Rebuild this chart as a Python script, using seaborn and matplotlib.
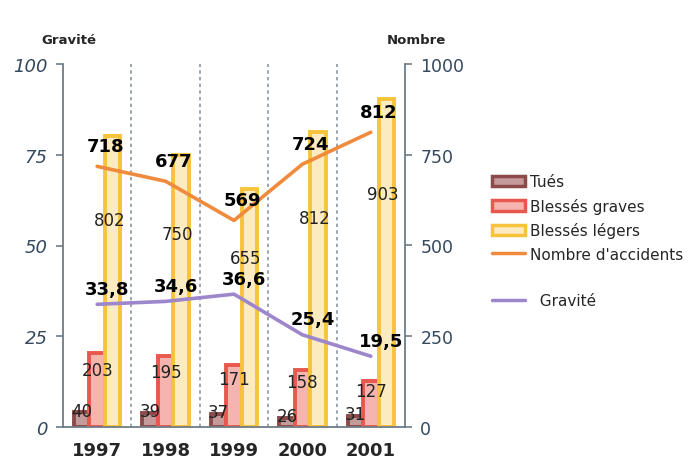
import numpy as np
import pandas as pd
import matplotlib
matplotlib.use("Agg")
from matplotlib import pyplot as plt
from matplotlib.patches import Patch
from matplotlib.lines import Line2D
import seaborn as sns

years = ["1997", "1998", "1999", "2000", "2001"]
tues = [40, 39, 37, 26, 31]
blesses_graves = [203, 195, 171, 158, 127]
blesses_legers = [802, 750, 655, 812, 903]
accidents = [718, 677, 569, 724, 812]
gravite = [33.8, 34.6, 36.6, 25.4, 19.5]

series_names = ["Tués", "Blessés graves", "Blessés légers"]
face_colors = ["#C49A9A", "#F5B5AE", "#FCEBC0"]
edge_colors = ["#8C4A4A", "#E8584E", "#F6C33A"]
orange = "#F08A3C"
violet = "#9D86CC"
axis_grey = "#6F7B85"
tick_col = "#34495E"

df = pd.DataFrame({
    "annee": years * 3,
    "type": [series_names[0]] * 5 + [series_names[1]] * 5 + [series_names[2]] * 5,
    "valeur": tues + blesses_graves + blesses_legers,
})

sns.set_theme(style="white")
plt.rcParams["font.family"] = ["DejaVu Sans"]

fig = plt.figure(figsize=(6.89, 4.64), dpi=100)
ax = fig.add_axes([0.0914, 0.0776, 0.4964, 0.7823])
ax2 = ax.twinx()

# barres (echelle de droite)
sns.barplot(data=df, x="annee", y="valeur", hue="type", hue_order=series_names,
            palette=face_colors, width=0.68, legend=False, ax=ax2, saturation=1)
for cont, ec in zip(ax2.containers, edge_colors):
    for b in cont:
        b.set_edgecolor(ec)
        b.set_linewidth(2.8)

x = np.arange(len(years))
sns.lineplot(x=x, y=accidents, color=orange, linewidth=2.6, legend=False, ax=ax2)
sns.lineplot(x=x, y=gravite, color=violet, linewidth=2.6, legend=False, ax=ax)

ax.set_zorder(ax2.get_zorder() + 1)
ax.patch.set_visible(False)

for xs in [0.5, 1.5, 2.5, 3.5]:
    ax2.axvline(xs, color="#8A96A3", linestyle=(0, (2, 2)), linewidth=1.2, zorder=0)

off = 0.68 / 3
for i in range(len(years)):
    ax2.text(i - off, tues[i] + 5, str(tues[i]), ha="center", va="center",
             fontsize=12, color="#222222")
    ax2.text(i, blesses_graves[i] * 0.78, str(blesses_graves[i]), ha="center",
             va="center", fontsize=12, color="#222222")
    ax2.text(i + off - 0.05, blesses_legers[i] * 0.71, str(blesses_legers[i]),
             ha="center", va="center", fontsize=12, color="#222222")
    ax2.text(i + 0.12, accidents[i] + 55, str(accidents[i]), ha="center",
             va="center", fontsize=13, fontweight="bold", color="black")
    ax.text(i + 0.15, gravite[i] + 4.3, f"{gravite[i]:.1f}".replace(".", ","),
            ha="center", va="center", fontsize=13, fontweight="bold", color="black")

ax.set_xlim(-0.5, 4.5)
ax.set_ylim(0, 100)
ax2.set_ylim(0, 1000)
ax.set_yticks([0, 25, 50, 75, 100])
ax2.set_yticks([0, 250, 500, 750, 1000])
ax.set_xticks(x)
ax.set_xticklabels(years, fontsize=13, fontweight="bold")
ax.set_xlabel("")
ax.set_ylabel("")
ax2.set_xlabel("")
ax2.set_ylabel("")

for a in (ax, ax2):
    for s in a.spines.values():
        s.set_visible(False)
ax.spines["left"].set_visible(True)
ax.spines["bottom"].set_visible(True)
ax2.spines["right"].set_visible(True)
for s in (ax.spines["left"], ax.spines["bottom"], ax2.spines["right"]):
    s.set_color(axis_grey)
    s.set_linewidth(1.3)

ax.tick_params(axis="y", direction="out", length=5, color=axis_grey, width=1.2,
               labelsize=13, labelcolor=tick_col, pad=6)
ax.tick_params(axis="x", length=0, pad=10)
ax2.tick_params(axis="y", direction="out", length=5, color=axis_grey, width=1.2,
                labelsize=12.5, labelcolor=tick_col, pad=6)
for lab in ax.get_yticklabels():
    lab.set_fontstyle("italic")

fig.text(0.06, 0.905, "Gravité", fontsize=9.5, fontweight="bold", ha="left")
fig.text(0.562, 0.905, "Nombre", fontsize=9.5, fontweight="bold", ha="left")

handles = [
    Patch(facecolor=face_colors[0], edgecolor=edge_colors[0], linewidth=2.5),
    Patch(facecolor=face_colors[1], edgecolor=edge_colors[1], linewidth=2.5),
    Patch(facecolor=face_colors[2], edgecolor=edge_colors[2], linewidth=2.5),
    Line2D([], [], color=orange, linewidth=2.5),
    Line2D([], [], color="none"),
    Line2D([], [], color=violet, linewidth=2.5),
]
labels = series_names + ["Nombre d'accidents", "", "  Gravité"]
fig.legend(handles, labels, loc="upper left", bbox_to_anchor=(0.705, 0.635),
           frameon=False, fontsize=11, handlelength=2.2, handletextpad=0.3,
           labelspacing=0.55, borderaxespad=0)

fig.savefig("out.png", dpi=100)
